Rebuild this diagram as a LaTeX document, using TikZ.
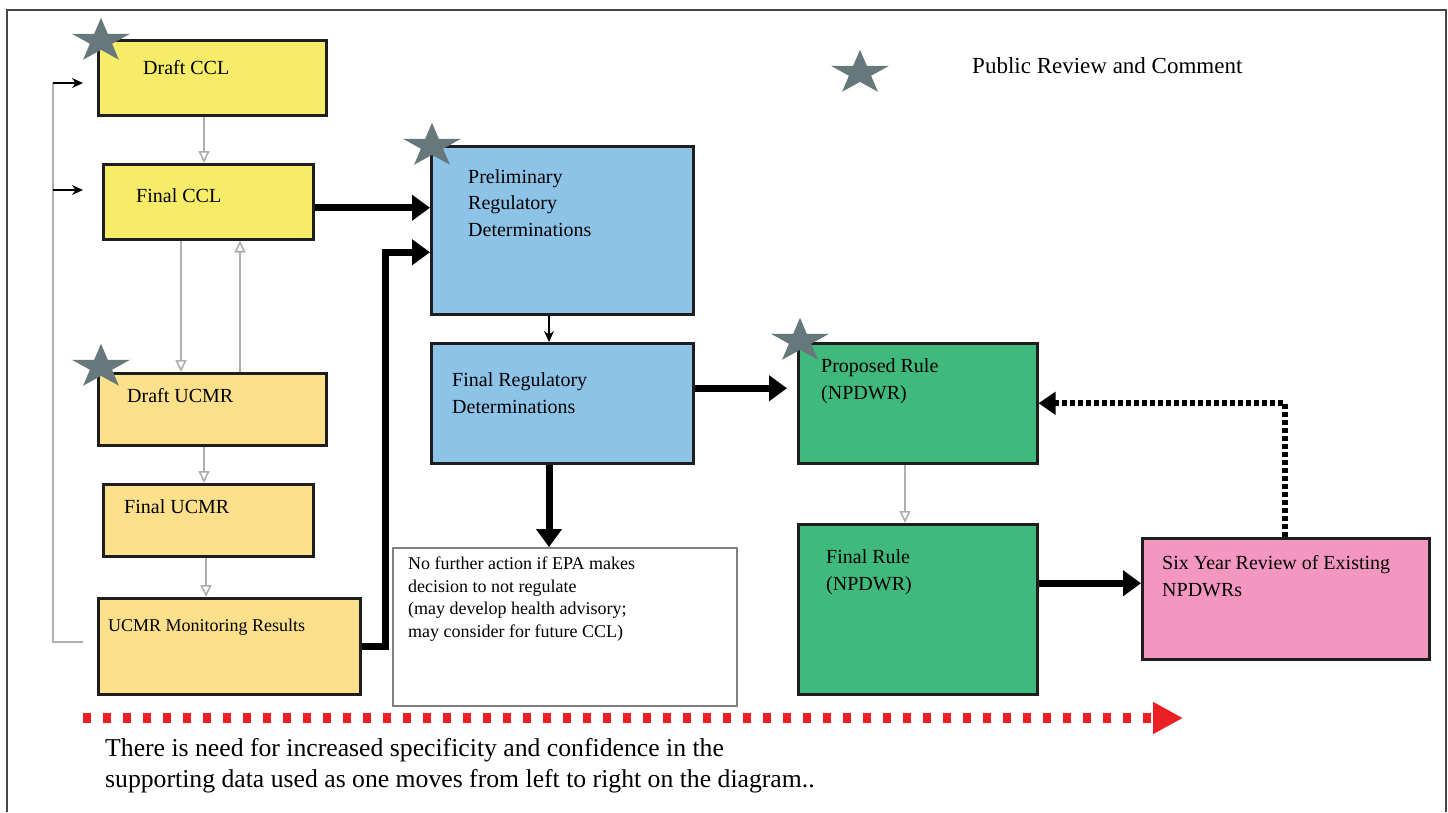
\documentclass[tikz,border=0pt]{standalone}
\usepackage{fontspec}
\setmainfont{Liberation Serif}
\usetikzlibrary{arrows.meta,calc}
\definecolor{cclyellow}{RGB}{247,236,104}
\definecolor{ucmrorange}{RGB}{252,224,140}
\definecolor{regblue}{RGB}{142,195,232}
\definecolor{rulegreen}{RGB}{64,185,124}
\definecolor{reviewpink}{RGB}{244,151,192}
\definecolor{stargray}{RGB}{102,120,124}
\definecolor{arrowred}{RGB}{236,32,36}
\definecolor{boxline}{RGB}{30,30,30}
\definecolor{framegray}{RGB}{70,70,70}
\definecolor{lightline}{RGB}{175,175,175}
\newcommand\gstar[2]{%
  \begin{scope}[shift={(#1,#2)},yscale=-0.76]
    \fill[stargray] (90:30.5)--(126:11.65)--(162:30.5)--(198:11.65)--(234:30.5)--(270:11.65)--(306:30.5)--(342:11.65)--(18:30.5)--(54:11.65)--cycle;
  \end{scope}}
\begin{document}
\begin{tikzpicture}[x=1pt,y=-1pt,
  box/.style={draw=boxline, line width=2.5pt, anchor=north west, inner sep=0pt},
  lbl/.style={anchor=base west, inner sep=0pt, align=left, font=\fontsize{20}{26.5}\selectfont},
  smalllbl/.style={anchor=base west, inner sep=0pt, align=left, font=\fontsize{18}{22.5}\selectfont},
  biglbl/.style={anchor=base west, inner sep=0pt, align=left, font=\fontsize{25.7}{31}\selectfont},
  legendlbl/.style={anchor=base west, inner sep=0pt, font=\fontsize{23}{28}\selectfont},
  grayarrow/.style={draw=lightline, line width=1.6pt, -{Triangle[open, length=12pt, width=11pt, fill=white]}},
  thinarrow/.style={draw=black, line width=1.4pt, -{Stealth[length=11pt, width=10pt]}},
  thickarrow/.style={draw=black, line width=7pt, -{Triangle[length=18pt, width=25pt]}},
  dotarrow/.style={draw=black, line width=6pt, dash pattern=on 5pt off 3pt, -{Triangle[length=17pt, width=22pt]}},
  redarrow/.style={draw=arrowred, line width=10pt, dash pattern=on 8pt off 12pt, -{Triangle[length=30pt, width=30pt]}}
]
\useasboundingbox (0,0) rectangle (1448,812);
\fill[white] (0,0) rectangle (1448,812);
\draw[framegray, line width=2pt] (7,812) -- (7,10) -- (1446,10) -- (1446,812);

% boxes
\node[box, fill=cclyellow, minimum width=228, minimum height=75] (dccl) at (97,39) {};
\node[box, fill=cclyellow, minimum width=210, minimum height=75] (fccl) at (102,163) {};
\node[box, fill=ucmrorange, minimum width=228, minimum height=72] (ducmr) at (97,372) {};
\node[box, fill=ucmrorange, minimum width=210, minimum height=72] (fucmr) at (102,483) {};
\node[box, fill=ucmrorange, minimum width=262, minimum height=96] (ucmr) at (97,597) {};
\node[box, fill=regblue, minimum width=262, minimum height=168] (prelim) at (430,145) {};
\node[box, fill=regblue, minimum width=262, minimum height=120] (freg) at (430,342) {};
\node[box, draw=gray, line width=1.5pt, fill=white, minimum width=344, minimum height=158] (nof) at (392,547) {};
\node[box, fill=rulegreen, minimum width=239, minimum height=120] (prop) at (797,342) {};
\node[box, fill=rulegreen, minimum width=239, minimum height=170] (frule) at (797,523) {};
\node[box, fill=reviewpink, minimum width=287, minimum height=121] (six) at (1141,537) {};

% texts (base anchor = baseline of the last line)
\node[lbl] (dccl-t) at (143,74) {Draft CCL};
\node[lbl] (fccl-t) at (136,202) {Final CCL};
\node[lbl] (ducmr-t) at (127,402) {Draft UCMR};
\node[lbl] (fucmr-t) at (124,513) {Final UCMR};
\node[smalllbl] (ucmr-t) at (108,631) {UCMR Monitoring Results};
\node[lbl] (prelim-t) at (468,236) {Preliminary\\Regulatory\\Determinations};
\node[lbl] (freg-t) at (452,413) {Final Regulatory\\Determinations};
\node[smalllbl] (nof-t) at (408,637) {No further action if EPA makes\\decision to not regulate\\(may develop health advisory;\\may consider for future CCL)};
\node[lbl] (prop-t) at (821,399) {Proposed Rule\\(NPDWR)};
\node[lbl] (frule-t) at (826,590) {Final Rule\\(NPDWR)};
\node[lbl] (six-t) at (1162,596) {Six Year Review of Existing\\NPDWRs};
\node[legendlbl] (legend-t) at (972,73) {Public Review and Comment};
\node[biglbl] (note-t) at (105,787) {There is need for increased specificity and confidence in the\\supporting data used as one moves from left to right on the diagram..};

% stars
\gstar{101}{41}
\gstar{432}{146}
\gstar{101}{367}
\gstar{800}{341}
\gstar{860}{73}

% left feedback loop
\coordinate (L1) at (53,83);
\coordinate (L2) at (53,190);
\coordinate (L3) at (53,642);
\draw[lightline, line width=1.6pt] ([xshift=-14pt]ucmr.west |- L3) -- (L3) -- (L1);
\draw[thinarrow, shorten >=14pt] (L1) -- (L1 -| dccl.west);
\draw[thinarrow, shorten >=19pt] (L2) -- (L2 -| fccl.west);

% gray arrows
\draw[grayarrow] (204,0 |- dccl.south) -- (204,0 |- fccl.north);
\draw[grayarrow] (181,0 |- fccl.south) -- (181,0 |- ducmr.north);
\draw[grayarrow] (240,0 |- ducmr.north) -- (240,0 |- fccl.south);
\draw[grayarrow] (204,0 |- ducmr.south) -- (204,0 |- fucmr.north);
\draw[grayarrow] (206,0 |- fucmr.south) -- (206,0 |- ucmr.north);
\draw[grayarrow] (905,0 |- prop.south) -- (905,0 |- frule.north);

% black arrows
\draw[thinarrow] (549,0 |- prelim.south) -- (549,0 |- freg.north);
\draw[thickarrow] (549,0 |- freg.south) -- (549,0 |- nof.north);
\draw[thickarrow] ([yshift=-6pt]fccl.east) -- ([yshift=-6pt]fccl.east -| prelim.west);
\draw[thickarrow] (ucmr.east) -- ++(24,0) |- ([yshift=-22pt]prelim.west);
\draw[thickarrow, shorten >=10pt] ([yshift=15pt]freg.east) -- ([yshift=15pt]freg.east -| prop.west);
\draw[thickarrow] ([yshift=26pt]frule.east) -- ([yshift=26pt]frule.east -| six.west);
\draw[dotarrow] (1285,0 |- six.north) |- (prop.east);

% red progress arrow
\coordinate (rs) at (83,718);
\coordinate (re) at (1183,718);
\draw[redarrow] (rs) -- (re);
\end{tikzpicture}
\end{document}
